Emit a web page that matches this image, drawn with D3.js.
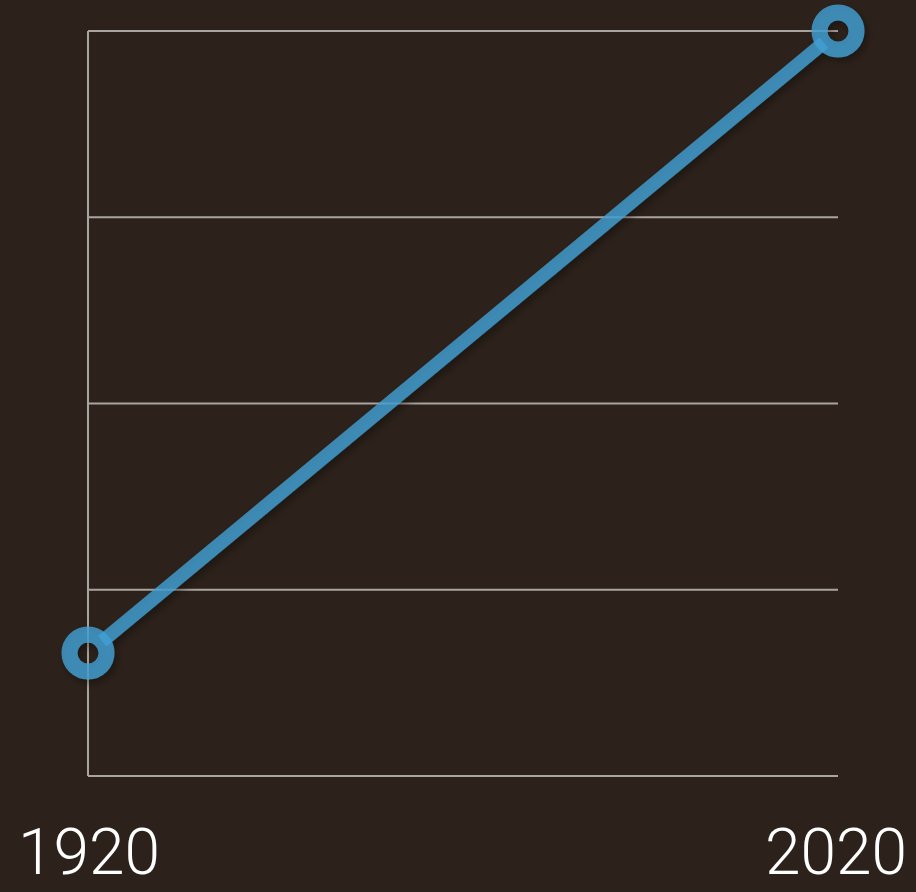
<!DOCTYPE html>
<html>
<head>
<meta charset="UTF-8">
<style>
    body { margin: 0; background: #2d221b; }
    .grid line { stroke: #aaa4a0; stroke-width: 2px; }
    .label { fill: #ffffff; font-family: Roboto, "Open Sans", sans-serif; font-weight: 300; font-size: 64px; }
</style>
</head>
<body>
<svg></svg>
<script src="https://d3js.org/d3.v7.min.js"></script>
<script>
    // data
    let years = [1920, 2020];
    let values = [0.66, 4];
    let gridValues = [0, 1, 2, 3, 4];

    let width = 916, height = 892;
    let radius = 18.5;
    let svg = d3.select("svg").attr("width", width).attr("height", height);

    let x = d3.scaleLinear().domain([1920, 2020]).range([88, 838]);
    let y = d3.scaleLinear().domain([0, 4]).range([776, 31]);

    let defs = svg.append("defs");
    let filter = defs.append("filter").attr("id", "shadow")
        .attr("x", "-20%").attr("y", "-20%").attr("width", "140%").attr("height", "140%");
    filter.append("feDropShadow").attr("dx", 3).attr("dy", 4).attr("stdDeviation", 4)
        .attr("flood-color", "#000").attr("flood-opacity", 0.45);

    // gridlines
    svg.append("g").attr("class", "grid")
        .selectAll("line")
        .data(gridValues)
        .enter()
        .append("line")
        .attr("x1", x(1920)).attr("x2", x(2020))
        .attr("y1", d => y(d)).attr("y2", d => y(d));

    // left axis line
    svg.append("g").attr("class", "grid")
        .append("line")
        .attr("x1", x(1920)).attr("x2", x(1920))
        .attr("y1", y(0)).attr("y2", y(4));

    let pts = years.map((d, i) => [x(d), y(values[i])]);

    // trim the segment so it stops inside the ring, not in its hole
    let dx = pts[1][0] - pts[0][0], dy = pts[1][1] - pts[0][1];
    let len = Math.sqrt(dx * dx + dy * dy);
    let ux = dx / len, uy = dy / len;
    let seg = [
        [pts[0][0] + ux * radius, pts[0][1] + uy * radius],
        [pts[1][0] - ux * radius, pts[1][1] - uy * radius]
    ];

    let g = svg.append("g").attr("filter", "url(#shadow)");

    g.append("path")
        .datum(seg)
        .attr("fill", "none")
        .attr("stroke", "#42a0d4")
        .attr("stroke-opacity", 0.8)
        .attr("stroke-width", 13.5)
        .attr("d", d3.line());

    g.selectAll("circle")
        .data(pts)
        .enter()
        .append("circle")
        .attr("cx", d => d[0])
        .attr("cy", d => d[1])
        .attr("r", radius)
        .attr("fill", "none")
        .attr("stroke", "#42a0d4")
        .attr("stroke-opacity", 0.8)
        .attr("stroke-width", 16);

    // year labels
    svg.selectAll("text.label")
        .data(years)
        .enter()
        .append("text")
        .attr("class", "label")
        .attr("x", (d, i) => i === 0 ? 18 : 907)
        .attr("y", 874)
        .attr("text-anchor", (d, i) => i === 0 ? "start" : "end")
        .text(d => d);
</script>
</body>
</html>
